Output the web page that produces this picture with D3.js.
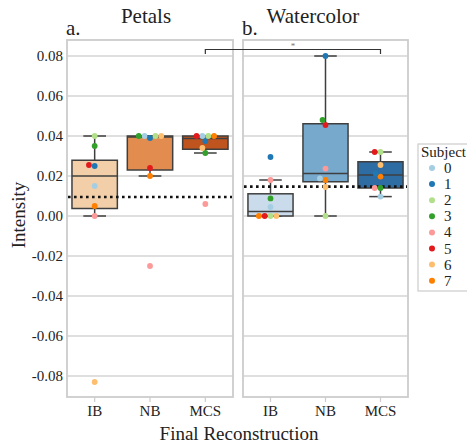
<!DOCTYPE html>
<html>
<head>
<meta charset="utf-8">
<script src="https://cdn.jsdelivr.net/npm/d3@7"></script>
<style>
  body { margin: 0; background: #fff; }
  svg text { font-family: 'Liberation Serif', 'Times New Roman', 'DejaVu Serif', serif !important; fill: #222; }
</style>
</head>
<body>
<script>
// width, height
var w = 467;
var h = 444;

/*** data (index = subject 0..7) ***/
var categories = ["IB", "NB", "MCS"];
var subjects = ["0", "1", "2", "3", "4", "5", "6", "7"];
var subjectColors = ["#a6cee3", "#1f78b4", "#b2df8a", "#33a02c", "#fb9a99", "#e31a1c", "#fdbf6f", "#ff7f00"];

var petalsIB  = [0.015, 0.025, 0.040, 0.035, 0.000, 0.0255, -0.083, 0.005];
var petalsNB  = [0.040, 0.039, 0.040, 0.040, -0.025, 0.024, 0.040, 0.020];
var petalsMCS = [0.040, 0.0375, 0.040, 0.0315, 0.006, 0.040, 0.034, 0.040];

var waterIB  = [0.0045, 0.0295, 0.000, 0.0088, 0.018, 0.000, 0.000, 0.000];
var waterNB  = [0.0188, 0.080, 0.000, 0.048, 0.0237, 0.0455, 0.0145, 0.018];
var waterMCS = [0.0097, 0.0213, 0.032, 0.014, 0.014, 0.032, 0.0255, 0.0197];

var chanceLevel = [0.0095, 0.0147];
var yTicks = [-0.08, -0.06, -0.04, -0.02, 0.00, 0.02, 0.04, 0.06, 0.08];

var petalsBoxColors = ["#f2cfa8", "#e28d4f", "#c0541f"];
var waterBoxColors  = ["#cadbec", "#77a9cd", "#2e6da4"];

/*** layout ***/
var panels = [
  { name: "Petals", letter: "a.", x0: 67, x1: 233, titleX: 146, series: [petalsIB, petalsNB, petalsMCS], boxColors: petalsBoxColors, chance: chanceLevel[0] },
  { name: "Watercolor", letter: "b.", x0: 243, x1: 408, titleX: 313, series: [waterIB, waterNB, waterMCS], boxColors: waterBoxColors, chance: chanceLevel[1] }
];
var plotTop = 40, plotBottom = 397;
var r = 2.9;

var svg = d3.select("body").append("svg")
            .attr("width", w)
            .attr("height", h);

var yScale = d3.scaleLinear()
               .domain([-0.0905, 0.088])
               .range([plotBottom, plotTop]);

// simple beeswarm like seaborn: sort by value, closest free slot to centre
function swarm(vals) {
  var d = 2 * r;
  var pts = vals.map(function(v, i) { return { v: v, s: i, y: yScale(v) }; });
  pts.sort(function(a, b) { return (b.y - a.y) || (a.s - b.s); });
  var placed = [];
  pts.forEach(function(p) {
    var cands = [0];
    placed.forEach(function(q) {
      var dy = Math.abs(q.y - p.y);
      if (dy < d) {
        var dx = Math.sqrt(d * d - dy * dy);
        cands.push(q.dx - dx, q.dx + dx);
      }
    });
    cands.sort(function(a, b) { return (Math.abs(a) - Math.abs(b)) || (a - b); });
    p.dx = 0;
    for (var k = 0; k < cands.length; k++) {
      var ok = placed.every(function(q) {
        return Math.hypot(q.dx - cands[k], q.y - p.y) >= d - 1e-6;
      });
      if (ok) { p.dx = cands[k]; break; }
    }
    placed.push(p);
  });
  return placed;
}

function boxStats(vals) {
  var s = vals.slice().sort(d3.ascending);
  var q1 = d3.quantileSorted(s, 0.25), med = d3.quantileSorted(s, 0.5), q3 = d3.quantileSorted(s, 0.75);
  var iqr = q3 - q1;
  var lo = d3.min(s.filter(function(v) { return v >= q1 - 1.5 * iqr; }));
  var hi = d3.max(s.filter(function(v) { return v <= q3 + 1.5 * iqr; }));
  return { q1: q1, med: med, q3: q3, lo: lo, hi: hi };
}

var xScales = [];

panels.forEach(function(p, pi) {
  var g = svg.append("g");
  var xScale = d3.scaleBand()
                 .domain(categories)
                 .range([p.x0, p.x1]);
  xScales.push(xScale);
  var bw = xScale.bandwidth() * 0.82;

  /*** grid ***/
  g.selectAll(".grid")
   .data(yTicks)
   .enter().append("line")
   .attr("x1", p.x0).attr("x2", p.x1)
   .attr("y1", function(d) { return yScale(d); })
   .attr("y2", function(d) { return yScale(d); })
   .attr("stroke", "#d4d4d4")
   .attr("stroke-width", 1.3);

  /*** frame ***/
  g.append("rect")
   .attr("x", p.x0).attr("y", plotTop)
   .attr("width", p.x1 - p.x0).attr("height", plotBottom - plotTop)
   .attr("fill", "none")
   .attr("stroke", "#cccccc")
   .attr("stroke-width", 1.8);

  /*** axes ***/
  var xAxis = d3.axisBottom().scale(xScale).tickSize(5).tickPadding(3);
  var xg = g.append("g")
            .attr("transform", "translate(0," + plotBottom + ")")
            .call(xAxis);
  xg.attr("font-family", null);
  xg.select(".domain").remove();
  xg.selectAll("line").attr("stroke", "#cccccc").attr("stroke-width", 1.2);
  xg.selectAll("text").attr("font-size", 15).attr("fill", "#222");

  if (pi == 0) {
    var yAxis = d3.axisLeft().scale(yScale).tickValues(yTicks).tickSize(0).tickPadding(4)
                  .tickFormat(function(d) { return d.toFixed(2); });
    var yg = g.append("g")
              .attr("transform", "translate(" + p.x0 + ",0)")
              .call(yAxis);
    yg.attr("font-family", null);
    yg.select(".domain").remove();
    yg.selectAll("text").attr("font-size", 15).attr("fill", "#222");
  }

  /*** boxes ***/
  p.series.forEach(function(vals, ci) {
    var st = boxStats(vals);
    var cx = xScale(categories[ci]) + xScale.bandwidth() / 2;
    var stroke = "#3f3f3f";
    g.append("line")
     .attr("x1", cx).attr("x2", cx)
     .attr("y1", yScale(st.q3)).attr("y2", yScale(st.hi))
     .attr("stroke", stroke).attr("stroke-width", 1.5);
    g.append("line")
     .attr("x1", cx).attr("x2", cx)
     .attr("y1", yScale(st.q1)).attr("y2", yScale(st.lo))
     .attr("stroke", stroke).attr("stroke-width", 1.5);
    [st.lo, st.hi].forEach(function(v) {
      g.append("line")
       .attr("x1", cx - bw / 4).attr("x2", cx + bw / 4)
       .attr("y1", yScale(v)).attr("y2", yScale(v))
       .attr("stroke", stroke).attr("stroke-width", 1.5);
    });
    g.append("rect")
     .attr("x", cx - bw / 2).attr("width", bw)
     .attr("y", yScale(st.q3)).attr("height", yScale(st.q1) - yScale(st.q3))
     .attr("fill", p.boxColors[ci])
     .attr("stroke", stroke).attr("stroke-width", 1.5);
    g.append("line")
     .attr("x1", cx - bw / 2).attr("x2", cx + bw / 2)
     .attr("y1", yScale(st.med)).attr("y2", yScale(st.med))
     .attr("stroke", stroke).attr("stroke-width", 1.5);
  });

  /*** chance level ***/
  g.append("line")
   .attr("x1", p.x0 + 1).attr("x2", p.x1 - 1)
   .attr("y1", yScale(p.chance)).attr("y2", yScale(p.chance))
   .attr("stroke", "#111")
   .attr("stroke-width", 2.6)
   .attr("stroke-dasharray", "2.6,3.4");

  /*** points ***/
  p.series.forEach(function(vals, ci) {
    var cx = xScale(categories[ci]) + xScale.bandwidth() / 2;
    var pts = swarm(vals);
    g.selectAll(".pt" + ci)
     .data(pts)
     .enter().append("circle")
     .attr("cx", function(d) { return cx + d.dx; })
     .attr("cy", function(d) { return d.y; })
     .attr("r", r)
     .attr("fill", function(d) { return subjectColors[d.s]; });
  });

  /*** titles ***/
  svg.append("text")
     .attr("x", p.titleX).attr("y", 23)
     .attr("text-anchor", "middle")
     .attr("font-size", 21)
     .text(p.name);
  svg.append("text")
     .attr("x", p.x0 - 1).attr("y", 35)
     .attr("font-size", 21)
     .text(p.letter);
});

/*** significance bracket between the two MCS groups ***/
var bx1 = xScales[0]("MCS") + xScales[0].bandwidth() / 2;
var bx2 = xScales[1]("MCS") + xScales[1].bandwidth() / 2;
svg.append("path")
   .attr("d", "M" + bx1 + ",54V49.5H" + bx2 + "V54")
   .attr("fill", "none")
   .attr("stroke", "#333")
   .attr("stroke-width", 1.2);
svg.append("text")
   .attr("x", (bx1 + bx2) / 2).attr("y", 49)
   .attr("text-anchor", "middle")
   .attr("font-size", 9)
   .style("fill", "#777")
   .text("*");

/*** axis labels ***/
svg.append("text")
   .attr("transform", "translate(25,215)rotate(-90)")
   .attr("text-anchor", "middle")
   .attr("font-size", 19)
   .text("Intensity");
svg.append("text")
   .attr("x", 239).attr("y", 440)
   .attr("text-anchor", "middle")
   .attr("font-size", 19)
   .text("Final Reconstruction");

/*** legend ***/
var lg = svg.append("g");
lg.append("rect")
  .attr("x", 418).attr("y", 144)
  .attr("width", 60).attr("height", 147)
  .attr("fill", "#fff")
  .attr("stroke", "#cccccc")
  .attr("stroke-width", 1.2);
lg.append("text")
  .attr("x", 421).attr("y", 157)
  .attr("font-size", 15)
  .text("Subject");
var items = lg.selectAll(".item")
              .data(subjects)
              .enter().append("g")
              .attr("transform", function(d, i) { return "translate(0," + (168 + i * 16.1) + ")"; });
items.append("circle")
     .attr("cx", 432).attr("cy", 0).attr("r", 3)
     .attr("fill", function(d, i) { return subjectColors[i]; });
items.append("text")
     .attr("x", 444).attr("y", 5)
     .attr("font-size", 15)
     .text(function(d) { return d; });
</script>
</body>
</html>
